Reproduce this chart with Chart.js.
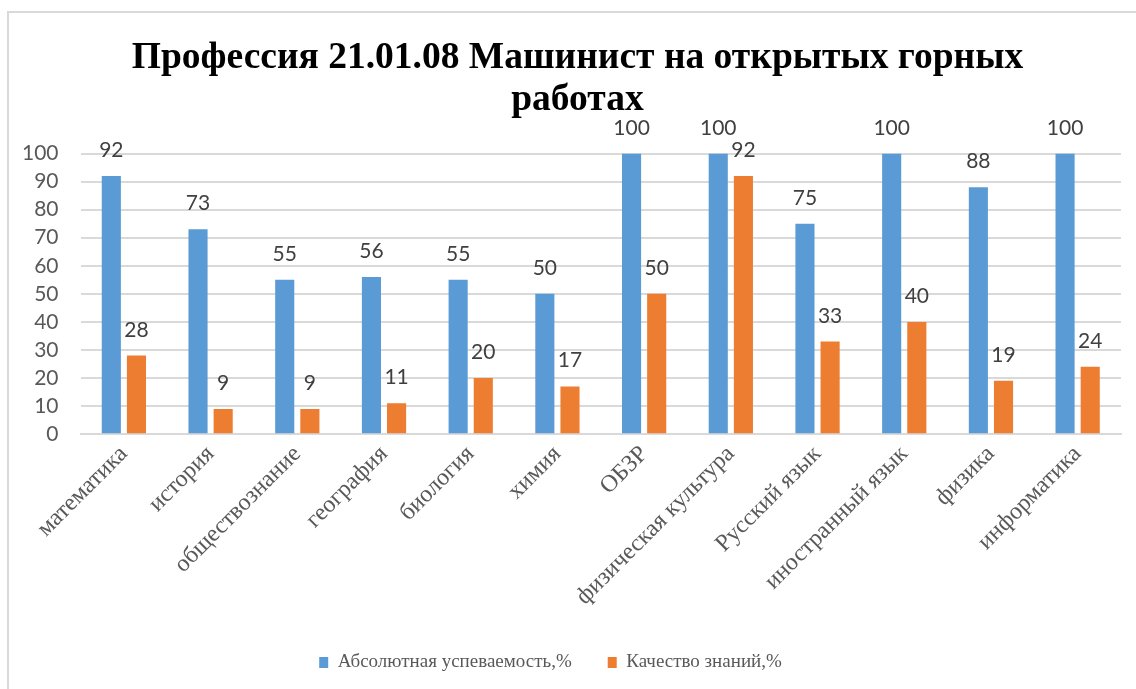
<!DOCTYPE html>
<html>
<head>
<meta charset="utf-8">
<script src="https://cdn.jsdelivr.net/npm/chart.js@4"></script>
<style>
  html, body { margin: 0; padding: 0; background: #fff; }
  #wrap { position: relative; width: 1136px; height: 689px; overflow: hidden; }
  #frame { position: absolute; left: 7px; top: 11px; width: 1200px; height: 800px;
           border-left: 2px solid #d9d9d9; border-top: 2px solid #d9d9d9; }
  #chart { position: absolute; left: 0; top: 0; }
</style>
</head>
<body>
<div id="wrap">
  <div id="frame"></div>
  <canvas id="chart" width="1136" height="689"></canvas>
</div>
<script>
const categories = ['математика', 'история', 'обществознание', 'география', 'биология', 'химия',
  'ОБЗР', 'физическая культура', 'Русский язык', 'иностранный язык', 'физика', 'информатика'];
const absoluteProgress = [92, 73, 55, 56, 55, 50, 100, 100, 75, 100, 88, 100];
const knowledgeQuality = [28, 9, 9, 11, 20, 17, 50, 92, 33, 40, 19, 24];
const titleLines = ['Профессия 21.01.08 Машинист на открытых горных', 'работах'];
const seriesNames = ['Абсолютная успеваемость,%', 'Качество знаний,%'];

// labels above bars
const barValues = {
    id: 'barValues',
    afterDatasetsDraw(chart) {
        const ctx = chart.ctx;
        ctx.save();
        ctx.font = '21px Lato';
        ctx.fillStyle = '#404040';
        ctx.textAlign = 'center';
        ctx.textBaseline = 'alphabetic';
        chart.data.datasets.forEach((ds, i) => {
            chart.getDatasetMeta(i).data.forEach((bar, j) => {
                ctx.fillText(ds.data[j], bar.x, bar.y - 19);
            });
        });
        ctx.restore();
    }
};

// title sits a bit right of the canvas centre, legend a bit left
const nudgeBoxes = {
    id: 'nudgeBoxes',
    afterLayout(chart) {
        if (chart.titleBlock) { chart.titleBlock.left += 17; chart.titleBlock.right += 17; }
        if (chart.legend) { chart.legend.left -= 10; chart.legend.right -= 10; }
    }
};

new Chart(document.getElementById('chart'), {
    type: 'bar',
    data: {
        labels: categories,
        datasets: [{
            label: seriesNames[0],
            data: absoluteProgress,
            backgroundColor: '#5B9BD5',
            categoryPercentage: 0.58,
            barPercentage: 0.76
        }, {
            label: seriesNames[1],
            data: knowledgeQuality,
            backgroundColor: '#ED7D31',
            categoryPercentage: 0.58,
            barPercentage: 0.76
        }]
    },
    options: {
        responsive: false,
        animation: false,
        layout: { padding: { left: 0, right: 15, bottom: 7 } },
        plugins: {
            title: {
                display: true,
                text: titleLines,
                color: '#000',
                font: { family: 'Liberation Serif', size: 37.5, weight: 'bold', lineHeight: 1.1 },
                padding: { top: 38, bottom: 33 }
            },
            legend: {
                position: 'bottom',
                labels: {
                    color: '#595959',
                    font: { family: 'Liberation Serif', size: 19 },
                    boxWidth: 9,
                    boxHeight: 11,
                    padding: 36
                }
            },
            tooltip: { enabled: false }
        },
        scales: {
            y: {
                min: 0,
                max: 100,
                ticks: { stepSize: 10, autoSkip: false, color: '#595959',
                         font: { family: 'Lato', size: 21 }, padding: 22 },
                grid: { color: '#d9d9d9', lineWidth: 2, drawTicks: false },
                border: { display: false }
            },
            x: {
                ticks: { color: '#595959', font: { family: 'Liberation Serif', size: 24 },
                         minRotation: 45, maxRotation: 45, padding: 6 },
                grid: { display: false, drawTicks: false },
                border: { color: '#d9d9d9', width: 2 }
            }
        }
    },
    plugins: [barValues, nudgeBoxes]
});
</script>
</body>
</html>
